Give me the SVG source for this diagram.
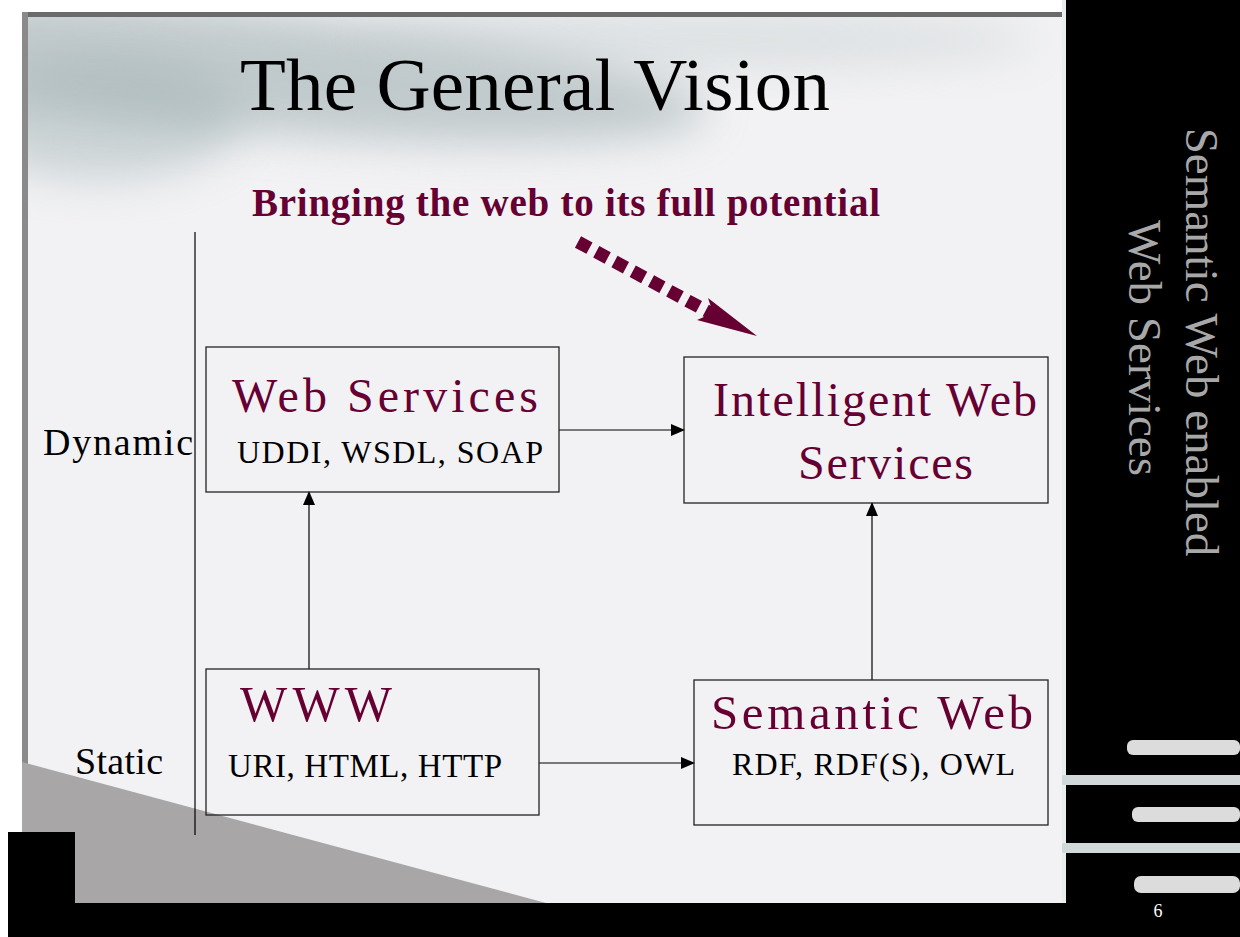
<svg xmlns="http://www.w3.org/2000/svg" width="1240" height="937" viewBox="0 0 1240 937">
<style>
.box{fill:none;stroke:#222;stroke-width:1.3}
.head{font-family:"Liberation Serif","Times New Roman",serif;fill:#660033}
.sub{font-family:"Liberation Serif","Times New Roman",serif;fill:#000}
.conn{stroke:#000;stroke-width:1.2;fill:none}
</style>
<defs>
<marker id="arr" markerUnits="userSpaceOnUse" markerWidth="14" markerHeight="12" refX="13" refY="6" orient="auto">
<path d="M0,0 L14,6 L0,12 Z" fill="#000"/>
</marker>
<clipPath id="area"><rect x="22" y="12" width="1044" height="892"/></clipPath>
<filter id="blur" x="-20%" y="-50%" width="140%" height="200%"><feGaussianBlur stdDeviation="22"/></filter>
</defs>
<!-- background -->
<rect x="0" y="0" width="1240" height="937" fill="#ffffff"/>
<rect x="22" y="12" width="1044" height="892" fill="#f2f2f4"/>
<g clip-path="url(#area)">
<ellipse cx="230" cy="70" rx="480" ry="60" transform="rotate(5 230 70)" fill="#98a9ab" opacity="0.55" filter="url(#blur)"/>
<ellipse cx="100" cy="120" rx="140" ry="60" fill="#9fb0b2" opacity="0.45" filter="url(#blur)"/>
<ellipse cx="700" cy="40" rx="340" ry="30" fill="#c3cccd" opacity="0.45" filter="url(#blur)"/>
</g>
<rect x="22" y="12" width="1044" height="5" fill="#6a6a6a"/>
<rect x="22" y="12" width="6" height="822" fill="#8a8a8a"/>
<polygon points="22,762 546,903 22,903" fill="#a9a6a8"/>
<rect x="1066" y="0" width="174" height="937" fill="#000"/>
<rect x="1062" y="0" width="4" height="903" fill="#e8eeee"/>
<path d="M8,832 L75,832 L75,903 L1240,903 L1240,937 L8,937 Z" fill="#000"/>
<rect x="1127" y="740" width="113" height="15" rx="6" fill="#dcdcdc"/>
<rect x="1062" y="775" width="178" height="10" fill="#d0d8da"/>
<rect x="1132" y="807" width="108" height="15" rx="6" fill="#dcdcdc"/>
<rect x="1062" y="843" width="178" height="10" fill="#d0d8da"/>
<rect x="1134" y="876" width="106" height="17" rx="7" fill="#dcdcdc"/>
<!-- side text -->
<g font-family="'Liberation Serif','Times New Roman',serif" fill="#a8a8a8" font-size="47" text-anchor="middle">
<text transform="translate(1186,342) rotate(90)">Semantic Web enabled</text>
<text transform="translate(1129,348) rotate(90)">Web Services</text>
</g>
<text x="1158" y="917" font-family="'Liberation Serif','Times New Roman',serif" font-size="18" fill="#fff" text-anchor="middle">6</text>
<!-- title -->
<text x="240" y="110" font-family="'Liberation Serif','Times New Roman',serif" font-size="75" fill="#000" textLength="590">The General Vision</text>
<text x="252" y="216" font-family="'Liberation Serif','Times New Roman',serif" font-size="39" font-weight="bold" fill="#660033" textLength="628">Bringing the web to its full potential</text>
<!-- dotted arrow -->
<g id="potential-arrow">
<line x1="578" y1="242" x2="718" y2="317" stroke="#660033" stroke-width="13" stroke-dasharray="13 7.7"/>
<polygon points="708,298 757,336 697,320 713,313" fill="#660033"/>
</g>
<!-- axis -->
<line x1="195" y1="232" x2="195" y2="835" stroke="#000" stroke-width="1.2"/>
<text x="43" y="455" font-family="'Liberation Serif','Times New Roman',serif" font-size="38" fill="#000" textLength="150">Dynamic</text>
<text x="75" y="774" font-family="'Liberation Serif','Times New Roman',serif" font-size="38" fill="#000" textLength="88">Static</text>
<!-- connectors -->
<g id="connectors">
<line class="conn" x1="559" y1="430" x2="684" y2="430" marker-end="url(#arr)"/>
<line class="conn" x1="309" y1="669" x2="309" y2="492" marker-end="url(#arr)"/>
<line class="conn" x1="872" y1="680" x2="872" y2="503" marker-end="url(#arr)"/>
<line class="conn" x1="539" y1="763" x2="694" y2="763" marker-end="url(#arr)"/>
</g>
<!-- nodes -->
<g id="web-services">
<rect class="box" x="206" y="347" width="353" height="145"/>
<text class="head" x="232" y="412" font-size="48" textLength="306">Web Services</text>
<text class="sub" x="237" y="463" font-size="32" textLength="306">UDDI, WSDL, SOAP</text>
</g>
<g id="intelligent-web-services">
<rect class="box" x="684" y="357" width="364" height="146"/>
<text class="head" x="713" y="416" font-size="48" textLength="324">Intelligent Web</text>
<text class="head" x="798" y="479" font-size="48" textLength="175">Services</text>
</g>
<g id="www">
<rect class="box" x="206" y="669" width="333" height="146"/>
<text class="head" x="240" y="721" font-size="50" textLength="152">WWW</text>
<text class="sub" x="228" y="777" font-size="33" textLength="274">URI, HTML, HTTP</text>
</g>
<g id="semantic-web">
<rect class="box" x="694" y="680" width="354" height="145"/>
<text class="head" x="711" y="729" font-size="49" textLength="322">Semantic Web</text>
<text class="sub" x="732" y="775" font-size="32" textLength="283">RDF, RDF(S), OWL</text>
</g>
</svg>
